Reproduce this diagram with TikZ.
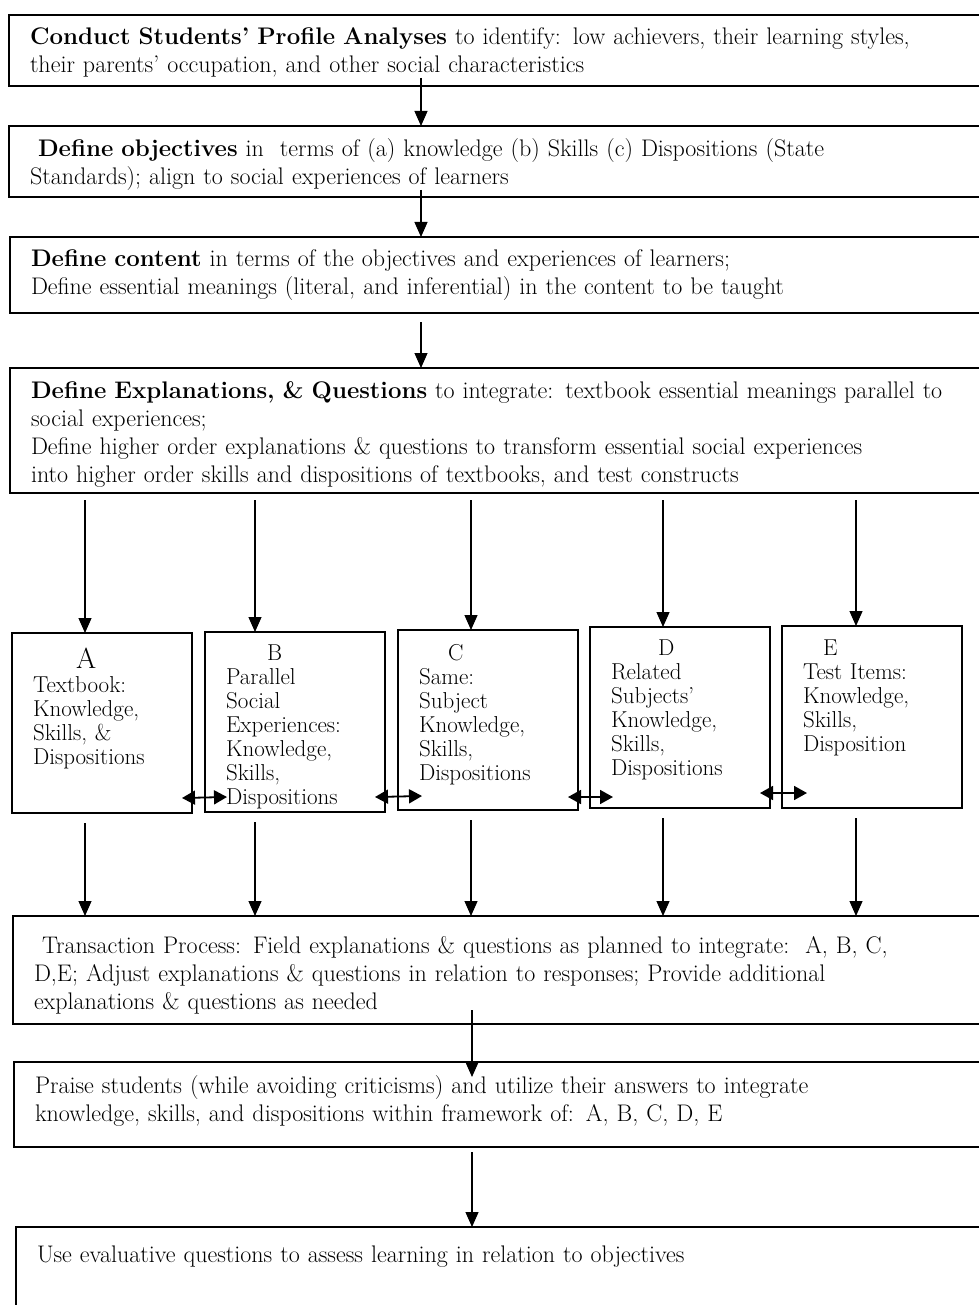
\documentclass[tikz,border=0pt]{standalone}
\usepackage{tikz}
\usetikzlibrary{arrows.meta,positioning,calc}
\tikzset{
  stage/.style={draw,line width=1.6pt,outer sep=0pt,anchor=north west,
    align=left,text width=960pt,inner xsep=21pt,inner ysep=0pt,
    font=\fontsize{24}{28}\selectfont},
  part/.style={draw,line width=1.6pt,outer sep=0pt,anchor=north west,
    align=left,text width=138pt,inner xsep=21pt,inner ysep=0pt,
    font=\fontsize{23}{24}\selectfont},
  arrow/.style={-{Triangle[length=15pt,width=13pt]},line width=1.2pt},
  twoway/.style={{Triangle[length=13pt,width=14pt]}-{Triangle[length=13pt,width=14pt]},
    line width=1.8pt}
}

\begin{document}
\begin{tikzpicture}[x=1pt,y=1pt]
  \useasboundingbox (0,0) rectangle (978,-1305);
  % planning stages
  \node[stage,text height=30pt,text depth=41pt] (profile) at (9,-15)
    {\textbf{Conduct Students’ Profile Analyses} to identify: low achievers, their learning styles,\\
     their parents’ occupation, and other social characteristics};
  \node[stage,text height=31pt,text depth=40pt] (objectives) at (9,-126)
    {\hspace*{8pt}\textbf{Define objectives} in\ \ terms of (a) knowledge (b) Skills (c) Dispositions (State\\
     Standards); align to social experiences of learners};
  \node[stage,text height=30pt,text depth=46pt] (content) at (10,-237)
    {\textbf{Define content} in terms of the objectives and experiences of learners;\\
     Define essential meanings (literal, and inferential) in the content to be taught};
  \node[stage,text height=30pt,text depth=95pt] (explain) at (10,-368)
    {\textbf{Define Explanations, \& Questions} to integrate: textbook essential meanings parallel to\\
     social experiences;\\
     Define higher order explanations \& questions to transform essential social experiences\\
     into higher order skills and dispositions of textbooks, and test constructs};
  \draw[arrow] ($(profile.south west)+(412,8)$) -- ($(objectives.north west)+(412,0)$);
  \draw[arrow] ($(objectives.south west)+(412,7)$) -- ($(content.north west)+(411,0)$);
  \draw[arrow] ($(content.south west)+(411,-9)$) -- ($(explain.north west)+(411,0)$);

  % the five parts
  \node[part,text height=35pt,text depth=145pt] (A) at (12,-633)
    {\hspace*{43pt}{\fontsize{29}{24}\selectfont A}\\Textbook:\\Knowledge,\\Skills, \&\\Dispositions};
  \node[part,text height=28pt,text depth=152pt] (B) at (205,-632)
    {\hspace*{41pt}B\\Parallel\\Social\\Experiences:\\Knowledge,\\Skills,\\Dispositions};
  \node[part,text height=30pt,text depth=150pt] (C) at (398,-630)
    {\hspace*{29pt}C\\Same:\\Subject\\Knowledge,\\Skills,\\Dispositions};
  \node[part,text height=28pt,text depth=153pt] (D) at (590,-627)
    {\hspace*{47pt}D\\Related\\Subjects’\\Knowledge,\\Skills,\\Dispositions};
  \node[part,text height=29pt,text depth=153pt] (E) at (782,-626)
    {\hspace*{20pt}E\\Test Items:\\Knowledge,\\Skills,\\Disposition};
  \draw[arrow] ($(explain.south -| A.north west)+(73,-7)$) -- ($(A.north west)+(73,0)$);
  \draw[arrow] ($(explain.south -| B.north west)+(50,-7)$) -- ($(B.north west)+(50,0)$);
  \draw[arrow] ($(explain.south -| C.north west)+(73,-7)$) -- ($(C.north west)+(73,0)$);
  \draw[arrow] ($(explain.south -| D.north west)+(73,-7)$) -- ($(D.north west)+(73,0)$);
  \draw[arrow] ($(explain.south -| E.north west)+(74,-7)$) -- ($(E.north west)+(74,0)$);
  \draw[twoway] ($(A.south east)+(-10,15)$) -- ($(B.south west)+(22,15)$);
  \draw[twoway] ($(B.south east)+(-10,15)$) -- ($(C.south west)+(24,14)$);
  \draw[twoway] ($(C.south east)+(-10,13)$) -- ($(D.south west)+(23,11)$);
  \draw[twoway] ($(D.south east)+(-10,15)$) -- ($(E.south west)+(25,15)$);

  % teaching stages
  \node[stage,text height=37pt,text depth=71pt] (transact) at (13,-916)
    {\hspace*{8pt}Transaction Process: Field explanations \& questions as planned to integrate:\ \ A, B, C,\\
     D,E; Adjust explanations \& questions in relation to responses; Provide additional\\
     explanations \& questions as needed};
  \node[stage,text height=31pt,text depth=54pt] (praise) at (14,-1062)
    {Praise students (while avoiding criticisms) and utilize their answers to integrate\\
     knowledge, skills, and dispositions within framework of: A, B, C, D, E};
  \node[stage,text height=35pt,text depth=90pt] (use) at (16,-1227)
    {Use evaluative questions to assess learning in relation to objectives};
  \draw[arrow] ($(A.south west)+(73,-10)$) -- ($(transact.north -| A.south west)+(73,0)$);
  \draw[arrow] ($(B.south west)+(50,-10)$) -- ($(transact.north -| B.south west)+(50,0)$);
  \draw[arrow] ($(C.south west)+(73,-10)$) -- ($(transact.north -| C.south west)+(73,0)$);
  \draw[arrow] ($(D.south west)+(73,-10)$) -- ($(transact.north -| D.south west)+(73,0)$);
  \draw[arrow] ($(E.south west)+(74,-10)$) -- ($(transact.north -| E.south west)+(74,0)$);
  \draw[arrow] ($(transact.south west)+(459,14)$) -- ($(praise.north west)+(458,-15)$);
  \draw[arrow] ($(praise.south west)+(458,-5)$) -- ($(use.north west)+(456,0)$);
\end{tikzpicture}
\end{document}
